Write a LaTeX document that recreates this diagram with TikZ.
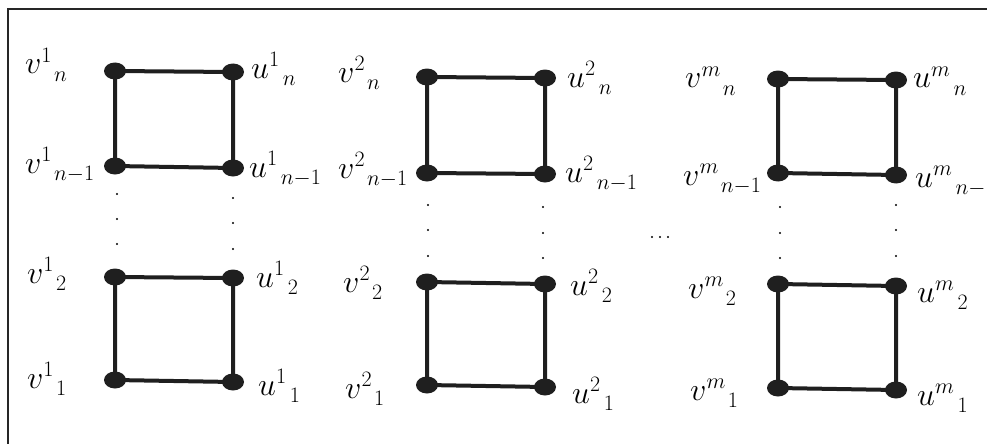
\RequirePackage{fix-cm}
\documentclass[tikz,border=0pt]{standalone}
\DeclareMathSizes{32}{32}{22}{16}
\newcommand{\tlab}[3]{$#1^{#2}_{\hphantom{#2}\,#3}$}
\tikzset{
  vert/.style={ellipse, fill=black!88, inner sep=0pt, minimum width=22pt, minimum height=17pt},
  edge/.style={line width=4pt, black!88},
  tiny/.style={circle, fill=black, inner sep=0pt, minimum size=2.2pt},
  lab/.style={anchor=base west, inner sep=0pt, font=\fontsize{32}{38}\selectfont},
  frame/.style={line width=2pt, black!85}
}
\usetikzlibrary{shapes.geometric}
\begin{document}
\begin{tikzpicture}[x=1pt, y=-1pt]
\useasboundingbox (0,0) rectangle (987,444);
\clip (0,0) rectangle (987,444);
\draw[frame] (8,9) rectangle (1000,460);

% vertex labels
\node[lab] (Lv1n) at (25,74)  {\tlab{v}{1}{n}};
\node[lab] (Lu1n) at (251,78) {\tlab{u}{1}{n}};
\node[lab] (Lv1a) at (25,173) {\tlab{v}{1}{n-1}};
\node[lab] (Lu1a) at (249,177){\tlab{u}{1}{n-1}};
\node[lab] (Lv1b) at (27,283) {\tlab{v}{1}{2}};
\node[lab] (Lu1b) at (256,287){\tlab{u}{1}{2}};
\node[lab] (Lv11) at (27,388) {\tlab{v}{1}{1}};
\node[lab] (Lu11) at (258,395){\tlab{u}{1}{1}};

\node[lab] (Lv2n) at (338,82) {\tlab{v}{2}{n}};
\node[lab] (Lu2n) at (567,87) {\tlab{u}{2}{n}};
\node[lab] (Lv2a) at (338,178){\tlab{v}{2}{n-1}};
\node[lab] (Lu2a) at (565,182){\tlab{u}{2}{n-1}};
\node[lab] (Lv2b) at (343,292){\tlab{v}{2}{2}};
\node[lab] (Lu2b) at (570,295){\tlab{u}{2}{2}};
\node[lab] (Lv21) at (345,398){\tlab{v}{2}{1}};
\node[lab] (Lu21) at (572,403){\tlab{u}{2}{1}};

\node[lab] (Lvmn) at (685,88) {\tlab{v}{m}{n}};
\node[lab] (Lumn) at (913,88) {\tlab{u}{m}{n}};
\node[lab] (Lvma) at (683,185){\tlab{v}{m}{n-1}};
\node[lab] (Luma) at (915,187){\tlab{u}{m}{n-1}};
\node[lab] (Lvmb) at (688,298){\tlab{v}{m}{2}};
\node[lab] (Lumb) at (917,302){\tlab{u}{m}{2}};
\node[lab] (Lvm1) at (690,400){\tlab{v}{m}{1}};
\node[lab] (Lum1) at (917,405){\tlab{u}{m}{1}};

% vertices
\foreach \nm/\px/\py in {
  v1n/115/71, u1n/233/72, v1a/115/166, u1a/233/168,
  v1b/115/277, u1b/233/278, v11/115/380, u11/233/382,
  v2n/427/77, u2n/545/78, v2a/427/173, u2a/545/174,
  v2b/427/282, u2b/545/284, v21/427/385, u21/545/387,
  vmn/778/79, umn/896/80, vma/778/173, uma/896/175,
  vmb/778/284, umb/896/286, vm1/778/388, um1/896/390}
  \coordinate (\nm) at (\px,\py);

% square edges
\foreach \g in {1,2,m}{
  \draw[edge] (v\g n) -- (u\g n) -- (u\g a) -- (v\g a) -- cycle;
  \draw[edge] (v\g b) -- (u\g b) -- (u\g 1) -- (v\g 1) -- cycle;
}

\foreach \nm in {v1n,u1n,v1a,u1a,v1b,u1b,v11,u11,
                 v2n,u2n,v2a,u2a,v2b,u2b,v21,u21,
                 vmn,umn,vma,uma,vmb,umb,vm1,um1}
  \node[vert] (d\nm) at (\nm) {};

% vertical ellipses between the squares
\foreach \nm/\px/\py in {
  a1/117/194, a2/117/219, a3/117/244,
  b1/233/198, b2/233/223, b3/233/249,
  c1/428/205, c2/428/230, c3/428/256,
  e1/543/207, e2/543/233, e3/543/258,
  f1/780/207, f2/780/233, f3/780/258,
  g1/896/205, g2/896/230, g3/896/256}
  \node[tiny] (\nm) at (\px,\py) {};

% horizontal ellipsis between the groups
\node[tiny] (h1) at (652,237) {};
\node[tiny] (h2) at (660,237) {};
\node[tiny] (h3) at (668,237) {};
\end{tikzpicture}
\end{document}
